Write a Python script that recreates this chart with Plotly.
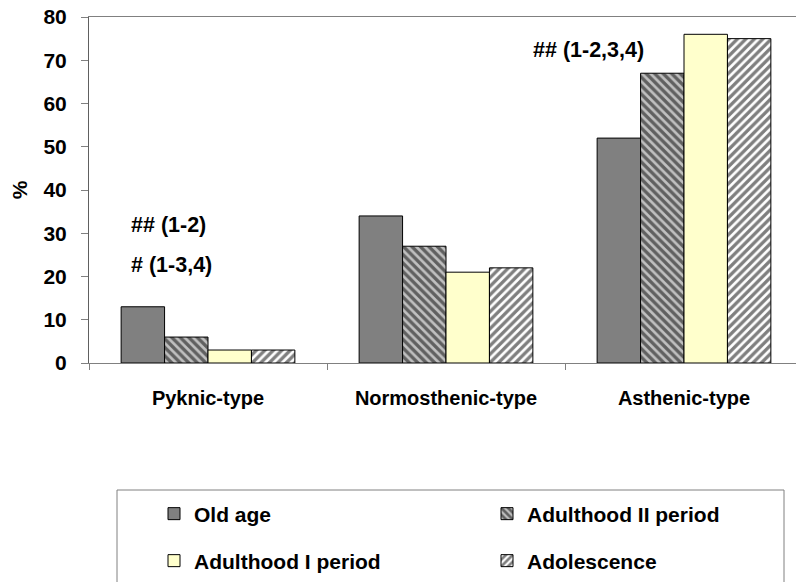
import plotly.graph_objects as go

categories = ["Pyknic-type", "Normosthenic-type", "Asthenic-type"]
series_names = ["Old age", "Adulthood II period", "Adulthood I period", "Adolescence"]
old_age = [13, 34, 52]
adulthood_2 = [6, 27, 67]
adulthood_1 = [3, 21, 76]
adolescence = [3, 22, 75]
y_ticks = [0, 10, 20, 30, 40, 50, 60, 70, 80]

W, H = 796, 582
L, R, T, B = 89, 0, 17, 219
pw, ph = W - L - R, H - T - B

def px_x(x):
    return (x - L) / pw

def px_y(y):
    return (H - B - y) / ph

SANS = "Liberation Sans, Arial, sans-serif"

styles = [
    dict(color="#808080", pattern=dict(shape="")),
    dict(color="#c0c0c0", pattern=dict(shape="\\", fgcolor="#000000", bgcolor="#c0c0c0", size=6, solidity=0.55)),
    dict(color="#ffffcc", pattern=dict(shape="")),
    dict(color="#ffffff", pattern=dict(shape="/", fgcolor="#000000", bgcolor="#ffffff", size=6, solidity=0.55)),
]
values = [old_age, adulthood_2, adulthood_1, adolescence]
legend_ids = ["legend", "legend2", "legend3", "legend4"]

fig = go.Figure()
for name, vals, st, lg in zip(series_names, values, styles, legend_ids):
    fig.add_trace(go.Bar(
        x=categories, y=vals, name=name, legend=lg,
        marker=dict(color=st["color"], pattern=st["pattern"],
                    line=dict(color="#000000", width=1)),
    ))

# legend positions (text start px, center y px)
leg_pos = [(195, 514), (528, 514), (195, 561), (528, 561)]
legend_layouts = {}
for lg, (tx, ty) in zip(legend_ids, leg_pos):
    legend_layouts[lg] = dict(
        x=px_x(tx - 41), y=px_y(ty), xanchor="left", yanchor="middle",
        bgcolor="rgba(0,0,0,0)", borderwidth=0,
        font=dict(family=SANS, size=21, color="#000000", weight="bold"),
    )

fig.update_layout(
    width=W, height=H,
    margin=dict(l=L, r=R, t=T, b=B, pad=0, autoexpand=False),
    paper_bgcolor="#ffffff", plot_bgcolor="#ffffff",
    barmode="group", bargap=0.27, bargroupgap=0,
    showlegend=True,
    **legend_layouts,
    xaxis=dict(
        type="category", range=[-0.5, -0.5 + 3 * pw / 714], automargin=False,
        showline=True, linecolor="#808080", linewidth=1, mirror=True,
        ticks="outside", tickson="boundaries", ticklen=6, tickcolor="#808080",
        tickfont=dict(family=SANS, size=20, color="#000000", weight="bold"),
        ticklabelstandoff=17,
        showgrid=False, zeroline=False,
    ),
    yaxis=dict(
        range=[0, 80], tickvals=y_ticks, automargin=False,
        showline=True, linecolor="#606060", linewidth=1,
        ticks="outside", ticklen=7, tickcolor="#808080",
        tickfont=dict(family=SANS, size=21, color="#000000", weight="bold"),
        ticklabelstandoff=10,
        showgrid=False, zeroline=False,
        title=dict(text="%", font=dict(family=SANS, size=21, color="#000000", weight="bold"), standoff=10),
    ),
    shapes=[dict(
        type="rect", xref="paper", yref="paper",
        x0=px_x(117), x1=px_x(784), y0=px_y(490), y1=px_y(600),
        line=dict(color="#808080", width=1), fillcolor="rgba(0,0,0,0)", layer="below",
    )],
    annotations=[
        dict(text="## (1-2)", xref="paper", yref="paper", x=px_x(129), y=px_y(225),
             xanchor="left", yanchor="middle", showarrow=False,
             font=dict(family=SANS, size=21.5, color="#000000", weight="bold")),
        dict(text="# (1-3,4)", xref="paper", yref="paper", x=px_x(129), y=px_y(265),
             xanchor="left", yanchor="middle", showarrow=False,
             font=dict(family=SANS, size=21.5, color="#000000", weight="bold")),
        dict(text="## (1-2,3,4)", xref="paper", yref="paper", x=px_x(531), y=px_y(50),
             xanchor="left", yanchor="middle", showarrow=False,
             font=dict(family=SANS, size=21.5, color="#000000", weight="bold")),
    ],
)

fig.write_html("out.html", config={"displayModeBar": False},
               post_script="document.body.style.margin='0';")
